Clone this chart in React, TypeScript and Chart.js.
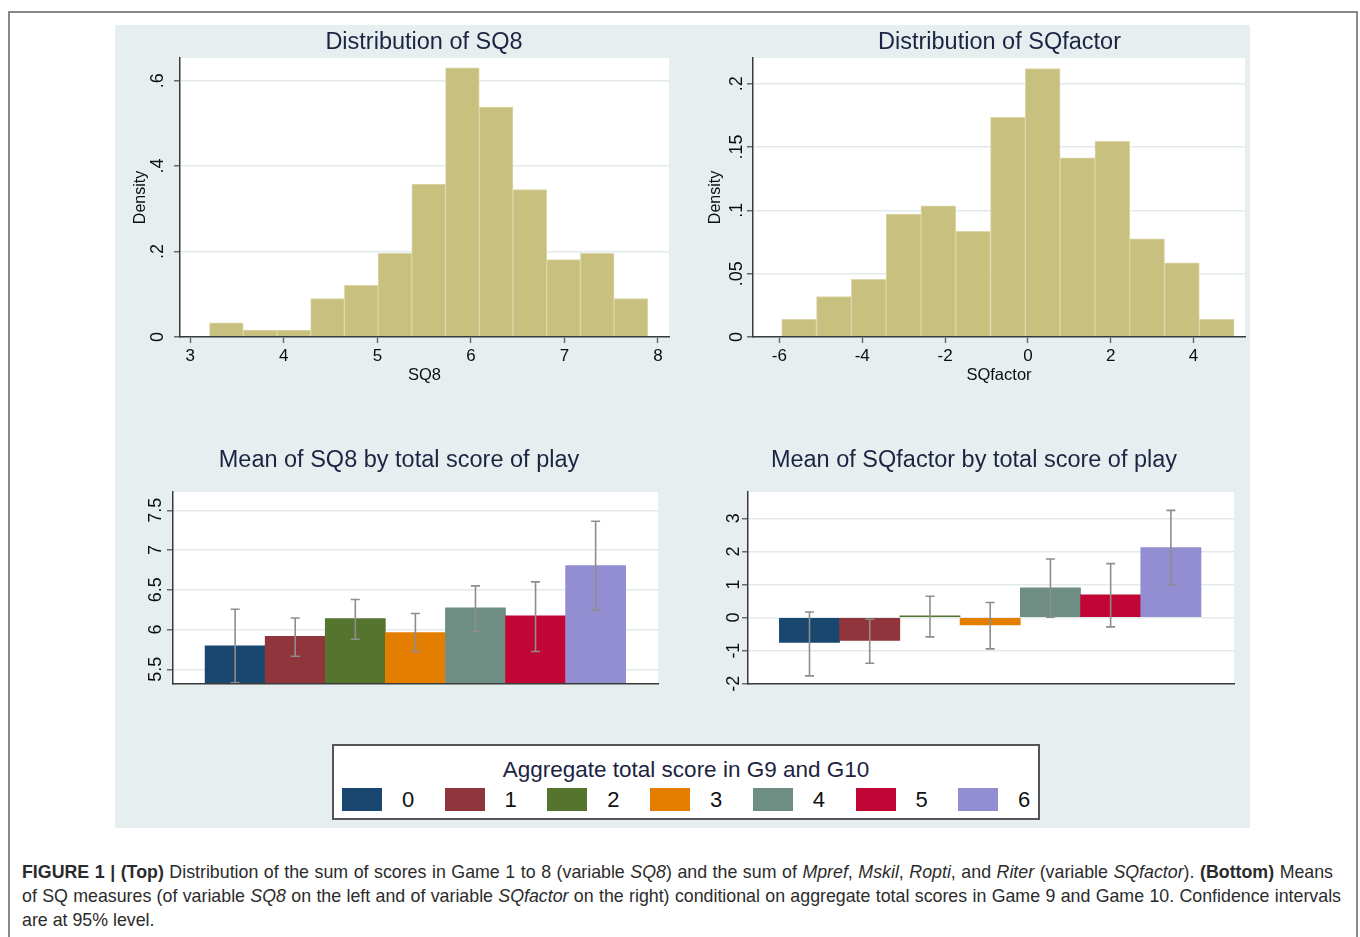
import React, { useEffect, useRef } from 'react';
import { Chart, registerables } from 'chart.js';

Chart.register(...registerables);

// ---------------- data ----------------
const sq8BinEdges = [3.205, 3.566, 3.926, 4.287, 4.647, 5.008, 5.368, 5.729, 6.089, 6.45, 6.81, 7.171, 7.531, 7.892];
const sq8Density = [0.033, 0.016, 0.016, 0.09, 0.121, 0.196, 0.358, 0.63, 0.538, 0.345, 0.181, 0.196, 0.09];
const sq8XTicks = [3, 4, 5, 6, 7, 8];
const sq8XTickLabels = ['3', '4', '5', '6', '7', '8'];
const sq8YTicks = [0, 0.2, 0.4, 0.6];
const sq8YTickLabels = ['0', '.2', '.4', '.6'];

const sqfBinEdges = [-5.944, -5.104, -4.263, -3.423, -2.582, -1.742, -0.902, -0.061, 0.779, 1.62, 2.46, 3.3, 4.141, 4.981];
const sqfDensity = [0.014, 0.032, 0.0455, 0.097, 0.1035, 0.0835, 0.1735, 0.212, 0.1415, 0.1545, 0.0775, 0.0585, 0.014];
const sqfXTicks = [-6, -4, -2, 0, 2, 4];
const sqfXTickLabels = ['-6', '-4', '-2', '0', '2', '4'];
const sqfYTicks = [0, 0.05, 0.1, 0.15, 0.2];
const sqfYTickLabels = ['0', '.05', '.1', '.15', '.2'];

const scoreGroups = [0, 1, 2, 3, 4, 5, 6];
const groupColors = ['#1a476f', '#90353b', '#55752f', '#e37e00', '#6e8e84', '#c10534', '#938dd2'];

const sq8Means = [5.794, 5.916, 6.138, 5.962, 6.272, 6.171, 6.805];
const sq8Lower = [5.33, 5.664, 5.878, 5.723, 5.979, 5.723, 6.247];
const sq8Upper = [6.255, 6.146, 6.377, 6.201, 6.549, 6.599, 7.362];
const sq8MeanYTicks = [5.5, 6, 6.5, 7, 7.5];
const sq8MeanYTickLabels = ['5.5', '6', '6.5', '7', '7.5'];

const sqfMeans = [-0.755, -0.695, 0.048, -0.22, 0.896, 0.683, 2.115];
const sqfLower = [-1.764, -1.38, -0.585, -0.947, 0.01, -0.283, 0.997];
const sqfUpper = [0.169, -0.05, 0.643, 0.453, 1.77, 1.63, 3.24];
const sqfMeanYTicks = [-2, -1, 0, 1, 2, 3];
const sqfMeanYTickLabels = ['-2', '-1', '0', '1', '2', '3'];

// ---------------- styles ----------------
const FONT = '"Liberation Sans", Arial, Helvetica, sans-serif';
const TITLE_COLOR = '#1c2442';
const PANEL_BG = '#e7eef0';
const GRID = '#e3eaec';
const AXIS = '#3a3a3a';
const TICK = '#6a6a6a';
const HIST_FILL = '#c8c07f';
const HIST_EDGE = '#dcd6a8';

type Box = { x: number; y: number; w: number; h: number };
type Plot = { l: number; t: number; r: number; b: number };
type TextSpec = {
  title: string;
  titleX: number;
  titleY: number;
  yTicks: number[];
  yTickLabels: string[];
  yLabelX: number;
  yTitle?: string;
  yTitleX?: number;
  xTicks?: number[];
  xTickLabels?: string[];
  xLabelY?: number;
  xTitle?: string;
  xTitleY?: number;
};

function decorPlugin(box: Box, s: TextSpec) {
  return {
    id: 'decor',
    beforeDraw(chart: any) {
      const { ctx, chartArea: a } = chart;
      ctx.save();
      ctx.fillStyle = '#ffffff';
      ctx.fillRect(a.left, a.top, a.right - a.left, a.bottom - a.top);
      ctx.restore();
    },
    afterDraw(chart: any) {
      const ctx = chart.ctx;
      const xs = chart.scales.x;
      const ys = chart.scales.y;
      const a = chart.chartArea;
      ctx.save();
      ctx.fillStyle = TITLE_COLOR;
      ctx.font = `23.5px ${FONT}`;
      ctx.textAlign = 'center';
      ctx.textBaseline = 'middle';
      ctx.fillText(s.title, s.titleX - box.x, s.titleY - box.y);

      ctx.fillStyle = '#0d0d0d';
      ctx.font = `18px ${FONT}`;
      s.yTicks.forEach((v, i) => {
        const py = ys.getPixelForValue(v);
        ctx.save();
        ctx.translate(s.yLabelX - box.x, py);
        ctx.rotate(-Math.PI / 2);
        ctx.textAlign = 'center';
        ctx.textBaseline = 'alphabetic';
        ctx.fillText(s.yTickLabels[i], 0, 0);
        ctx.restore();
      });

      if (s.yTitle && s.yTitleX !== undefined) {
        ctx.save();
        ctx.font = `16px ${FONT}`;
        ctx.translate(s.yTitleX - box.x, (a.top + a.bottom) / 2);
        ctx.rotate(-Math.PI / 2);
        ctx.textAlign = 'center';
        ctx.textBaseline = 'middle';
        ctx.fillText(s.yTitle, 0, 0);
        ctx.restore();
      }

      if (s.xTicks && s.xTickLabels && s.xLabelY !== undefined) {
        ctx.font = `17px ${FONT}`;
        ctx.textAlign = 'center';
        ctx.textBaseline = 'middle';
        s.xTicks.forEach((v, i) => {
          ctx.fillText(s.xTickLabels![i], xs.getPixelForValue(v), s.xLabelY! - box.y);
        });
      }
      if (s.xTitle && s.xTitleY !== undefined) {
        ctx.font = `16.5px ${FONT}`;
        ctx.textAlign = 'center';
        ctx.textBaseline = 'middle';
        ctx.fillText(s.xTitle, (a.left + a.right) / 2, s.xTitleY - box.y);
      }
      ctx.restore();
    },
  };
}

function errorBarPlugin(lower: number[], upper: number[]) {
  return {
    id: 'errbars',
    afterDatasetsDraw(chart: any) {
      const { ctx, chartArea: a } = chart;
      const xs = chart.scales.x;
      const ys = chart.scales.y;
      ctx.save();
      ctx.beginPath();
      ctx.rect(a.left, a.top, a.right - a.left, a.bottom - a.top);
      ctx.clip();
      ctx.strokeStyle = '#8d8d8d';
      ctx.lineWidth = 1.6;
      scoreGroups.forEach((g, i) => {
        const x = xs.getPixelForValue(g);
        const y1 = ys.getPixelForValue(lower[i]);
        const y2 = ys.getPixelForValue(upper[i]);
        ctx.beginPath();
        ctx.moveTo(x, y1);
        ctx.lineTo(x, y2);
        ctx.moveTo(x - 4.5, y1);
        ctx.lineTo(x + 4.5, y1);
        ctx.moveTo(x - 4.5, y2);
        ctx.lineTo(x + 4.5, y2);
        ctx.stroke();
      });
      ctx.restore();
    },
  };
}

function baseOptions(box: Box, plot: Plot, xMin: number, xMax: number, yMin: number, yMax: number,
  xTicks: number[], yTicks: number[], xTickMarks: boolean) {
  const yW = plot.l - box.x;
  const xH = box.y + box.h - plot.b;
  return {
    responsive: false,
    animation: false,
    devicePixelRatio: 1,
    layout: { padding: { left: 0, top: plot.t - box.y, right: box.x + box.w - plot.r, bottom: 0 } },
    plugins: { legend: { display: false }, tooltip: { enabled: false }, title: { display: false } },
    scales: {
      x: {
        type: 'linear',
        min: xMin,
        max: xMax,
        offset: false,
        afterBuildTicks: (sc: any) => { sc.ticks = xTicks.map((v) => ({ value: v })); },
        afterFit: (sc: any) => { sc.height = xH; sc.paddingLeft = 0; sc.paddingRight = 0; sc.paddingTop = 0; sc.paddingBottom = 0; },
        ticks: { display: false },
        grid: {
          display: xTickMarks,
          offset: false,
          drawOnChartArea: false,
          drawTicks: true,
          tickLength: 6,
          tickColor: TICK,
          tickWidth: 1.5,
        },
        border: { display: true, color: AXIS, width: 1.5, z: 1 },
      },
      y: {
        type: 'linear',
        min: yMin,
        max: yMax,
        afterBuildTicks: (sc: any) => { sc.ticks = yTicks.map((v) => ({ value: v })); },
        afterFit: (sc: any) => { sc.width = yW; sc.paddingLeft = 0; sc.paddingRight = 0; sc.paddingTop = 0; sc.paddingBottom = 0; },
        ticks: { display: false },
        grid: {
          display: true,
          color: GRID,
          lineWidth: 1.5,
          drawTicks: true,
          tickLength: 6,
          tickColor: TICK,
          tickWidth: 1.5,
        },
        border: { display: true, color: AXIS, width: 1.5, z: 1 },
      },
    },
  };
}

function ChartCanvas({ box, makeConfig }: { box: Box; makeConfig: () => any }) {
  const ref = useRef<HTMLCanvasElement>(null);
  useEffect(() => {
    const chart = new Chart(ref.current as HTMLCanvasElement, makeConfig());
    return () => chart.destroy();
  }, []);
  return (
    <canvas
      ref={ref}
      width={box.w}
      height={box.h}
      style={{ position: 'absolute', left: box.x, top: box.y, width: box.w, height: box.h }}
    />
  );
}

function histConfig(box: Box, plot: Plot, edges: number[], dens: number[], xMin: number, xMax: number,
  yMax: number, xTicks: number[], text: TextSpec) {
  const pts = dens.map((d, i) => ({ x: (edges[i] + edges[i + 1]) / 2, y: d }));
  return {
    type: 'bar',
    data: {
      datasets: [{
        data: pts,
        backgroundColor: HIST_FILL,
        borderColor: HIST_EDGE,
        borderWidth: 1,
        barPercentage: 1,
        categoryPercentage: 1,
      }],
    },
    options: baseOptions(box, plot, xMin, xMax, 0, yMax, xTicks, text.yTicks, true),
    plugins: [decorPlugin(box, text)],
  };
}

function meanConfig(box: Box, plot: Plot, means: number[], lower: number[], upper: number[],
  xMin: number, xMax: number, yMin: number, yMax: number, text: TextSpec) {
  return {
    type: 'bar',
    data: {
      datasets: [{
        data: scoreGroups.map((g, i) => ({ x: g, y: means[i] })),
        backgroundColor: groupColors,
        borderWidth: 0,
        barPercentage: 1,
        categoryPercentage: 1,
      }],
    },
    options: baseOptions(box, plot, xMin, xMax, yMin, yMax, scoreGroups, text.yTicks, false),
    plugins: [decorPlugin(box, text), errorBarPlugin(lower, upper)],
  };
}

const tlBox: Box = { x: 115, y: 25, w: 570, h: 370 };
const tlPlot: Plot = { l: 180, t: 58, r: 669, b: 337 };
const trBox: Box = { x: 685, y: 25, w: 565, h: 370 };
const trPlot: Plot = { l: 753, t: 58, r: 1245, b: 337 };
const blBox: Box = { x: 115, y: 435, w: 570, h: 275 };
const blPlot: Plot = { l: 173, t: 492, r: 658, b: 684 };
const brBox: Box = { x: 685, y: 435, w: 565, h: 275 };
const brPlot: Plot = { l: 748, t: 492, r: 1234, b: 684 };

export default function App() {
  const captionStyle: React.CSSProperties = {
    position: 'absolute',
    left: 22,
    fontFamily: FONT,
    fontSize: 17.8,
    lineHeight: '24px',
    color: '#2b2b2b',
    whiteSpace: 'nowrap',
  };
  const justified: React.CSSProperties = { textAlign: 'justify', textAlignLast: 'justify' as any };
  return (
    <div style={{ position: 'absolute', left: 0, top: 0, width: 1360, height: 937, overflow: 'hidden', background: '#ffffff', fontFamily: FONT }}>
      <div style={{ position: 'absolute', left: 8, top: 11, width: 1346, height: 960, border: '2px solid #888888' }} />
      <div style={{ position: 'absolute', left: 115, top: 25, width: 1135, height: 803, background: PANEL_BG }} />

      <ChartCanvas box={tlBox} makeConfig={() => histConfig(tlBox, tlPlot, sq8BinEdges, sq8Density, 2.89, 8.118, 0.653, sq8XTicks, {
        title: 'Distribution of SQ8', titleX: 424, titleY: 43,
        yTicks: sq8YTicks, yTickLabels: sq8YTickLabels, yLabelX: 163,
        yTitle: 'Density', yTitleX: 141,
        xTicks: sq8XTicks, xTickLabels: sq8XTickLabels, xLabelY: 356,
        xTitle: 'SQ8', xTitleY: 375,
      })} />
      <ChartCanvas box={trBox} makeConfig={() => histConfig(trBox, trPlot, sqfBinEdges, sqfDensity, -6.638, 5.244, 0.2203, sqfXTicks, {
        title: 'Distribution of SQfactor', titleX: 999.5, titleY: 43,
        yTicks: sqfYTicks, yTickLabels: sqfYTickLabels, yLabelX: 742,
        yTitle: 'Density', yTitleX: 715.5,
        xTicks: sqfXTicks, xTickLabels: sqfXTickLabels, xLabelY: 356,
        xTitle: 'SQfactor', xTitleY: 375,
      })} />
      <ChartCanvas box={blBox} makeConfig={() => meanConfig(blBox, blPlot, sq8Means, sq8Lower, sq8Upper, -1.034, 7.038, 5.315, 7.73, {
        title: 'Mean of SQ8 by total score of play', titleX: 399, titleY: 461,
        yTicks: sq8MeanYTicks, yTickLabels: sq8MeanYTickLabels, yLabelX: 160.5,
      })} />
      <ChartCanvas box={brBox} makeConfig={() => meanConfig(brBox, brPlot, sqfMeans, sqfLower, sqfUpper, -1.021, 7.048, -2.009, 3.795, {
        title: 'Mean of SQfactor by total score of play', titleX: 974, titleY: 461,
        yTicks: sqfMeanYTicks, yTickLabels: sqfMeanYTickLabels, yLabelX: 739,
      })} />

      <div style={{ position: 'absolute', left: 332, top: 744, width: 708, height: 76, boxSizing: 'border-box', border: '2px solid #555555', background: '#ffffff' }}>
        <div style={{ position: 'absolute', left: 0, top: 11, width: 704, textAlign: 'center', fontSize: 22.5, lineHeight: '26px', color: TITLE_COLOR }}>
          Aggregate total score in G9 and G10
        </div>
        {scoreGroups.map((g, i) => (
          <React.Fragment key={g}>
            <div style={{ position: 'absolute', left: 8 + i * 102.7, top: 42, width: 40, height: 23, background: groupColors[i] }} />
            <div style={{ position: 'absolute', left: 62 + i * 102.7, top: 41, width: 24, textAlign: 'center', fontSize: 22, lineHeight: '26px', color: '#111111' }}>
              {String(g)}
            </div>
          </React.Fragment>
        ))}
      </div>

      <div style={{ ...captionStyle, ...justified, top: 860, width: 1311 }}>
        <b>FIGURE 1 | (Top)</b> Distribution of the sum of scores in Game 1 to 8 (variable <i>SQ8</i>) and the sum of <i>Mpref</i>, <i>Mskil</i>, <i>Ropti</i>, and <i>Riter</i> (variable <i>SQfactor</i>). <b>(Bottom)</b> Means
      </div>
      <div style={{ ...captionStyle, ...justified, top: 884, width: 1319 }}>
        of SQ measures (of variable <i>SQ8</i> on the left and of variable <i>SQfactor</i> on the right) conditional on aggregate total scores in Game 9 and Game 10. Confidence intervals
      </div>
      <div style={{ ...captionStyle, top: 908 }}>
        are at 95% level.
      </div>
    </div>
  );
}
